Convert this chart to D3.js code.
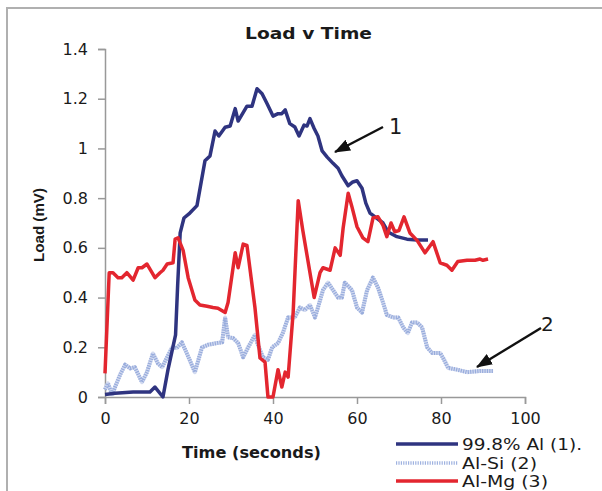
<!DOCTYPE html>
<html>
<head>
<meta charset="utf-8">
<script src="https://cdn.jsdelivr.net/npm/d3@7"></script>
<style>
  body { margin: 0; background: #fff; }
  text { font-family: "DejaVu Sans", sans-serif; fill: #1a1a1a; }
</style>
</head>
<body>
<svg id="chart" width="602" height="491"></svg>
<script>
// 99.8% Al (1)
var al998 = [
  [0, 0.01], [2.4, 0.015], [6.7, 0.02], [10.7, 0.02], [11.9, 0.04], [13.8, 0.0],
  [15, 0.11], [16.8, 0.25], [17.3, 0.45], [17.9, 0.66], [18.8, 0.72], [20.2, 0.74],
  [21.9, 0.77], [23.8, 0.95], [25, 0.97], [26.2, 1.07], [27.1, 1.05], [28.6, 1.085],
  [29.8, 1.09], [31, 1.16], [31.7, 1.11], [33.8, 1.17], [35, 1.17], [36.2, 1.24],
  [37.4, 1.22], [38.6, 1.18], [40, 1.13], [41.2, 1.14], [42.1, 1.14], [42.9, 1.155],
  [44, 1.10], [45.2, 1.086], [46.2, 1.05], [47.4, 1.094], [48.1, 1.09], [48.8, 1.12],
  [49.8, 1.08], [50.7, 1.05], [51.7, 0.99], [52.9, 0.965], [54.3, 0.94], [55.5, 0.92],
  [56.4, 0.89], [57.9, 0.85], [59, 0.865], [60, 0.87], [61.2, 0.84], [62.1, 0.78],
  [63.1, 0.74], [64.3, 0.725], [66.2, 0.70], [67.4, 0.664], [69.5, 0.645], [71.9, 0.635],
  [74.3, 0.632], [76.9, 0.632]
];
// Al-Si (2)
var alSi = [
  [0, 0.03], [0.7, 0.055], [1.7, 0.01], [2.4, 0.04], [3.6, 0.09], [4.8, 0.13],
  [6, 0.115], [7.1, 0.12], [8.8, 0.06], [10, 0.10], [11.4, 0.175], [12.6, 0.135],
  [13.6, 0.12], [14.8, 0.16], [16, 0.20], [17.1, 0.197], [18.3, 0.22], [19.5, 0.175],
  [21.4, 0.10], [23.1, 0.20], [24.5, 0.21], [26.7, 0.217], [27.9, 0.22], [28.6, 0.32],
  [29.3, 0.24], [30.5, 0.237], [31.7, 0.217], [32.9, 0.16], [34, 0.197], [35.7, 0.25],
  [36.4, 0.21], [37.6, 0.16], [38.8, 0.15], [39.8, 0.20], [41.2, 0.217], [42.4, 0.26],
  [43.6, 0.32], [45.2, 0.32], [46.4, 0.36], [47.6, 0.35], [48.8, 0.37], [50, 0.32],
  [50.7, 0.36], [51.9, 0.43], [53.1, 0.46], [54.3, 0.43], [55.5, 0.40], [56.4, 0.40],
  [57.1, 0.46], [58.8, 0.43], [60, 0.36], [61.2, 0.34], [62.4, 0.43], [63.8, 0.48],
  [65, 0.44], [66.2, 0.38], [67.1, 0.33], [68.6, 0.32], [69.8, 0.32], [71, 0.28],
  [72.1, 0.257], [73.1, 0.30], [74.3, 0.30], [75.5, 0.28], [76.7, 0.20], [77.9, 0.177],
  [78.6, 0.177], [79.8, 0.177], [80.5, 0.157], [81.7, 0.117], [83.8, 0.11], [86.2, 0.10],
  [89.3, 0.105], [92.4, 0.105]
];
// Al-Mg (3)
var alMg = [
  [0, 0.095], [1, 0.50], [1.9, 0.50], [3.1, 0.48], [4, 0.48], [5.2, 0.50],
  [6.7, 0.47], [7.9, 0.52], [8.8, 0.52], [10, 0.535], [11.9, 0.48], [13.1, 0.50],
  [13.8, 0.51], [14.8, 0.535], [16.2, 0.54], [16.7, 0.635], [17.4, 0.64], [18.6, 0.59],
  [19.8, 0.48], [21.4, 0.39], [22.6, 0.37], [24.3, 0.365], [25.7, 0.36], [26.9, 0.357],
  [28.6, 0.34], [29.3, 0.38], [31, 0.58], [31.7, 0.52], [32.9, 0.615], [33.8, 0.61],
  [35.7, 0.36], [36.9, 0.157], [38.1, 0.14], [38.8, 0.0], [40, 0.0], [41.2, 0.11],
  [42.1, 0.04], [42.9, 0.10], [43.6, 0.08], [44.8, 0.34], [46, 0.79], [47.1, 0.67],
  [49.8, 0.40], [51.2, 0.50], [51.9, 0.52], [53.6, 0.51], [54.8, 0.60], [56, 0.57],
  [56.7, 0.68], [57.9, 0.82], [58.8, 0.765], [60, 0.685], [61.4, 0.64], [62.6, 0.625],
  [63.8, 0.72], [65, 0.725], [66.2, 0.69], [67.1, 0.645], [68.1, 0.70], [69, 0.665],
  [70, 0.67], [71.2, 0.725], [72.6, 0.66], [74.3, 0.63], [76.2, 0.58], [78.1, 0.625],
  [79.8, 0.54], [81.4, 0.53], [82.6, 0.51], [84, 0.545], [86.2, 0.55], [88.1, 0.55],
  [89.3, 0.555], [90, 0.55], [91.2, 0.555]
];
var xTicks = [0, 20, 40, 60, 80, 100];
var yTicks = [0, 0.2, 0.4, 0.6, 0.8, 1, 1.2, 1.4];
var seriesNames = ["99.8% Al (1).", "Al-Si (2)", "Al-Mg (3)"];
var seriesColors = ["#2f3480", "#9fb2e0", "#e3262f"];

var svg = d3.select("#chart");

// frame: only top and left edges show
svg.append("path").attr("d", "M7,491V8H602")
    .attr("fill", "none").attr("stroke", "#b0b0b0").attr("stroke-width", 2);

var x = d3.scaleLinear().domain([0, 100]).range([105, 525]);
var y = d3.scaleLinear().domain([0, 1.4]).range([397, 49]);

var xAxis = svg.append("g").attr("transform", "translate(0,397)")
    .call(d3.axisBottom(x).tickValues(xTicks).tickSize(7).tickPadding(9).tickFormat(d3.format("d")));
var yAxis = svg.append("g").attr("transform", "translate(105,0)")
    .call(d3.axisLeft(y).tickValues(yTicks).tickSize(7).tickPadding(10).tickFormat(function (d) { return d3.format("~g")(d); }));
[xAxis, yAxis].forEach(function (a) {
    a.select(".domain").attr("stroke", "#999").attr("stroke-width", 1.5);
    a.selectAll(".tick line").attr("stroke", "#999").attr("stroke-width", 1.5);
    a.selectAll(".tick text").style("font-family", "DejaVu Sans").style("font-size", "16px").attr("fill", "#1a1a1a");
});

var line = d3.line().x(function (d) { return x(d[0]); }).y(function (d) { return y(d[1]); });

// Al-Si drawn as a light, textured line
svg.append("path").datum(alSi).attr("d", line)
    .attr("fill", "none").attr("stroke", "#d2daf0").attr("stroke-width", 4).attr("stroke-linejoin", "round");
svg.append("path").datum(alSi).attr("d", line)
    .attr("fill", "none").attr("stroke", "#98acdc").attr("stroke-width", 4)
    .attr("stroke-dasharray", "1.2,1.2").attr("stroke-linejoin", "round");
svg.append("path").datum(al998).attr("d", line)
    .attr("fill", "none").attr("stroke", seriesColors[0]).attr("stroke-width", 3.5).attr("stroke-linejoin", "round");
svg.append("path").datum(alMg).attr("d", line)
    .attr("fill", "none").attr("stroke", seriesColors[2]).attr("stroke-width", 3.5).attr("stroke-linejoin", "round");

// title and axis labels
svg.append("text").attr("x", 245).attr("y", 39).attr("textLength", 127).attr("lengthAdjust", "spacingAndGlyphs")
    .style("font-size", "15px").style("font-weight", "bold").text("Load v Time");
svg.append("text").attr("x", 182).attr("y", 458).attr("textLength", 139).attr("lengthAdjust", "spacingAndGlyphs")
    .style("font-size", "15px").style("font-weight", "bold").text("Time (seconds)");
svg.append("text").attr("transform", "translate(44,262) rotate(-90)").attr("textLength", 74).attr("lengthAdjust", "spacingAndGlyphs")
    .style("font-family", "Liberation Sans").style("font-size", "14px").style("font-weight", "bold").text("Load (mV)");

// annotation arrows
svg.append("defs").append("marker").attr("id", "head")
    .attr("viewBox", "0 0 16 12").attr("refX", 15).attr("refY", 6)
    .attr("markerWidth", 16).attr("markerHeight", 12).attr("markerUnits", "userSpaceOnUse").attr("orient", "auto")
    .append("path").attr("d", "M0,0L16,6L0,12z").attr("fill", "#111");
svg.append("line").attr("x1", 383).attr("y1", 127).attr("x2", 335).attr("y2", 152)
    .attr("stroke", "#111").attr("stroke-width", 2.5).attr("marker-end", "url(#head)");
svg.append("line").attr("x1", 541).attr("y1", 328).attr("x2", 477).attr("y2", 367)
    .attr("stroke", "#111").attr("stroke-width", 2.5).attr("marker-end", "url(#head)");
svg.append("text").attr("x", 389).attr("y", 134).style("font-size", "21px").text("1");
svg.append("text").attr("x", 541).attr("y", 331).style("font-size", "20px").text("2");

// legend
var legendWidths = [120, 75, 86];
var legend = svg.append("g").selectAll("g").data(seriesNames).join("g")
    .attr("transform", function (d, i) { return "translate(396," + [444, 463, 481][i] + ")"; });
legend.append("line").attr("x1", 0).attr("x2", 62)
    .attr("stroke", function (d, i) { return seriesColors[i]; })
    .attr("stroke-width", 3.5)
    .attr("stroke-dasharray", function (d, i) { return i === 1 ? "1.2,1.2" : null; });
legend.append("text").attr("x", 66).attr("y", 6)
    .attr("textLength", function (d, i) { return legendWidths[i]; }).attr("lengthAdjust", "spacingAndGlyphs")
    .style("font-size", "16px").text(function (d) { return d; });
</script>
</body>
</html>
